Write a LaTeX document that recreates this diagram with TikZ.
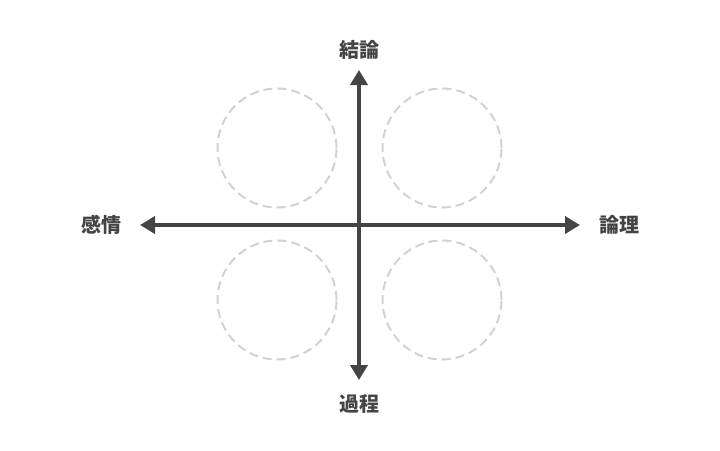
\documentclass[tikz,border=0pt]{standalone}
\usepackage{fontspec}
\usepackage{xcolor}
\usepackage{tikz}
\usetikzlibrary{arrows.meta,positioning}
\newfontfamily\jpfont{Noto Sans CJK JP}
\definecolor{axisgray}{HTML}{444444}
\definecolor{ringgray}{HTML}{D2D2D2}
\tikzstyle{axis} = [draw=axisgray, line width=4pt, {Triangle[width=17pt,length=15pt]}-{Triangle[width=17pt,length=15pt]}]
\tikzstyle{ring} = [circle, draw=ringgray, line width=2pt, dash pattern=on 9pt off 5pt, minimum size=119pt, inner sep=0pt]
\tikzstyle{lbl} = [font=\jpfont\bfseries\fontsize{20pt}{20pt}\selectfont, text=axisgray, inner sep=0pt]

\begin{document}
\begin{tikzpicture}[x=1pt,y=-1pt,node distance=20pt]
  \useasboundingbox (0,0) rectangle (720,450);
      \coordinate (o) at (359,225);
      \coordinate (west) at (140,225);
      \coordinate (east) at (580,225);
      \coordinate (north) at (359,70);
      \coordinate (south) at (359,380);

      \node [ring] (q1) at (277,148) {};
      \node [ring] (q2) at (442,148) {};
      \node [ring] (q3) at (277,300) {};
      \node [ring] (q4) at (442,300) {};

      \node [lbl, above of=north] (ketsuron) {結論};
      \node [lbl, below of=south, node distance=24pt] (katei) {過程};
      \node [lbl, left of=west, node distance=39pt] (kanjo) {感情};
      \node [lbl, right of=east, node distance=39pt] (ronri) {論理};

      \path [axis] (west) -- (east);
      \path [axis] (south) -- (north);

    \end{tikzpicture}
\end{document}
